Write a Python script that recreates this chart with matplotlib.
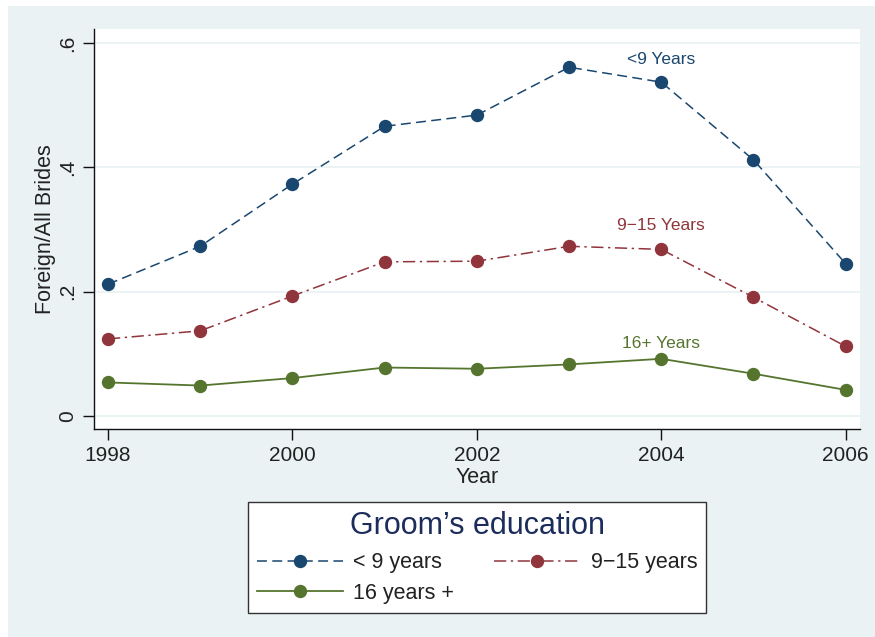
import matplotlib
matplotlib.use("Agg")
import matplotlib.pyplot as plt
from matplotlib.patches import Rectangle
from matplotlib.lines import Line2D

plt.rcParams['font.family'] = ['Liberation Sans', 'DejaVu Sans']

years = [1998, 1999, 2000, 2001, 2002, 2003, 2004, 2005, 2006]
lt9 = [0.212, 0.273, 0.373, 0.466, 0.484, 0.561, 0.537, 0.412, 0.245]
y9_15 = [0.124, 0.137, 0.193, 0.248, 0.249, 0.273, 0.268, 0.191, 0.112]
y16p = [0.054, 0.049, 0.061, 0.078, 0.076, 0.083, 0.092, 0.068, 0.042]

series_names = ["< 9 years", "9\u221215 years", "16 years +"]
label_texts = ["<9 Years", "9\u221215 Years", "16+ Years"]
label_y = [0.574, 0.307, 0.116]
label_x = 2004

xticks = [1998, 2000, 2002, 2004, 2006]
yticks = [0, 0.2, 0.4, 0.6]
yticklabels = ["0", ".2", ".4", ".6"]

c_blue = '#1a476f'
c_red = '#90353b'
c_green = '#55752f'
bg = '#eaf2f3'
txt = '#222222'

W, H = 875, 637
fig = plt.figure(figsize=(W / 100, H / 100), dpi=100)
fig.patch.set_facecolor('white')
fig.patches.append(Rectangle((8 / W, 0), 1 - 8 / W, (H - 6) / H, transform=fig.transFigure,
                             facecolor=bg, edgecolor='none', zorder=-10))

ax = fig.add_axes([94 / W, (H - 429) / H, (860 - 94) / W, (429 - 29) / H])
ax.set_facecolor('white')
ax.set_xlim(1997.848, 2006.155)
ax.set_ylim(-0.0209, 0.6225)

for yv in yticks:
    ax.axhline(yv, color=bg, lw=1.3, zorder=0)

lw = 1.1
ms = 8.6
l1, = ax.plot(years, lt9, color=c_blue, lw=lw, marker='o', ms=ms, dashes=(6.5, 3.5), zorder=3)
l2, = ax.plot(years, y9_15, color=c_red, lw=lw, marker='o', ms=ms, dashes=(8, 3, 1.5, 3), zorder=3)
l3, = ax.plot(years, y16p, color=c_green, lw=1.3, marker='o', ms=ms, zorder=3)

for t, yv, c in zip(label_texts, label_y, [c_blue, c_red, c_green]):
    ax.text(label_x, yv, t, color=c, fontsize=12.5, ha='center', va='center')

for s in ['top', 'right']:
    ax.spines[s].set_visible(False)
for s in ['left', 'bottom']:
    ax.spines[s].set_color('#111111')
    ax.spines[s].set_linewidth(1.0)

ax.set_xticks(xticks)
ax.set_xticklabels([str(x) for x in xticks])
ax.set_yticks(yticks)
ax.set_yticklabels(yticklabels, rotation=90, va='center')
ax.tick_params(axis='both', length=8, width=1.0, color='#111111', labelsize=15, labelcolor=txt, pad=4)

ax.set_xlabel("Year", fontsize=15.5, color=txt, labelpad=2)
ax.set_ylabel("Foreign/All Brides", fontsize=15.5, color=txt, labelpad=1.5)

handles = [l1, l3, l2]
labels = [series_names[0], series_names[2], series_names[1]]
leg = fig.legend(handles, labels, ncol=2, loc='upper left',
                 bbox_to_anchor=(248 / W, 1 - 612 / H, (706 - 248) / W, 110 / H), mode='expand',
                 title="Groom\u2019s education", title_fontsize=22, fontsize=15.5,
                 handlelength=4.0, handletextpad=0.5, columnspacing=2.3,
                 frameon=True, fancybox=False, borderpad=0.4, labelspacing=0.44,
                 borderaxespad=0, framealpha=1)
leg._legend_box.sep = 0.55 * 15.5
leg.get_frame().set_edgecolor('#333333')
leg.get_frame().set_linewidth(1.0)
leg.get_frame().set_facecolor('white')
leg.get_title().set_color('#1c2d5c')
for t in leg.get_texts():
    t.set_color(txt)

fig.savefig('out.png', dpi=100, facecolor=fig.get_facecolor())
